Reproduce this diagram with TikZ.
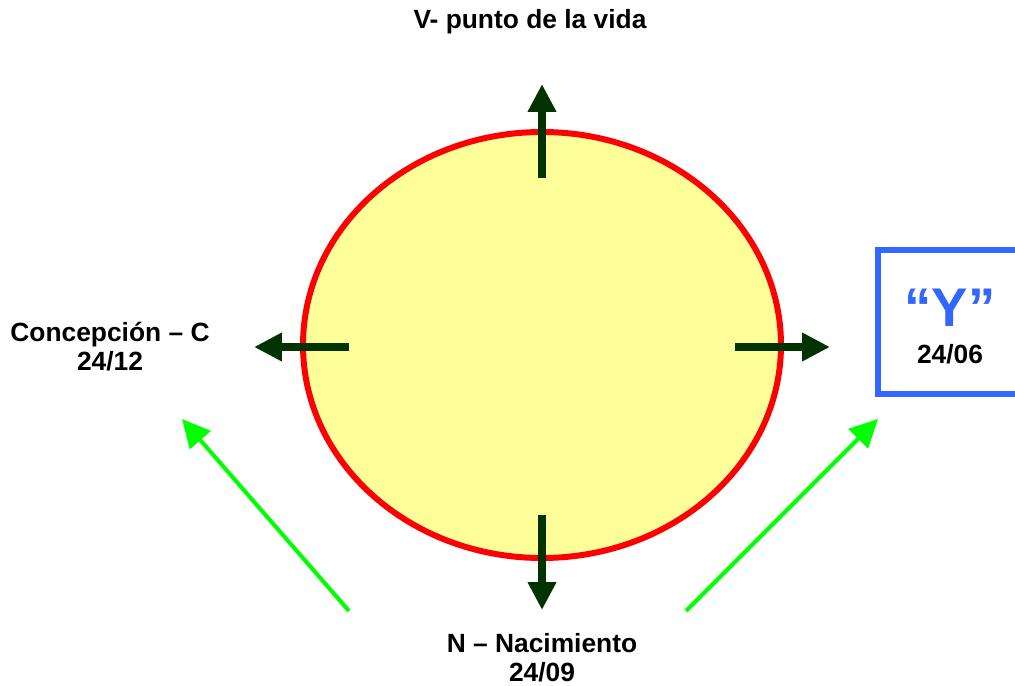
\documentclass[tikz,border=0pt]{standalone}
\usepackage{fontspec}
\setmainfont{Liberation Sans}
\usetikzlibrary{arrows.meta}
\definecolor{darkarrow}{HTML}{003300}
\definecolor{lightarrow}{HTML}{00FF00}
\definecolor{boxblue}{HTML}{3366FF}
\definecolor{eggfill}{HTML}{FFFF99}
\begin{document}
\begin{tikzpicture}[x=0.02cm, y=-0.02cm,
    label/.style={font=\fontsize{15}{16.5}\selectfont\bfseries, align=center},
    darkarrow/.style={draw=darkarrow, line width=4pt, -{Triangle[width=0.54cm, length=0.56cm]}},
    lightarrow/.style={draw=lightarrow, line width=2.3pt, -{Triangle[width=0.54cm, length=0.56cm]}}]
    \useasboundingbox (0,0) rectangle (1015,686);

    % Central ellipse (yellow with red outline)
    \draw[red, fill=eggfill, line width=3.4pt] (542,345) ellipse (239 and 213);

    % Ends of the four dark arrows
    \coordinate (topin) at (542,178);   \coordinate (topout) at (542,84);
    \coordinate (leftin) at (349,347);  \coordinate (leftout) at (254,347);
    \coordinate (rightin) at (735,347); \coordinate (rightout) at (830,347);
    \coordinate (botin) at (542,515);   \coordinate (botout) at (542,610);

    \draw[darkarrow] (topin) -- (topout);
    \draw[darkarrow] (leftin) -- (leftout);
    \draw[darkarrow] (rightin) -- (rightout);
    \draw[darkarrow] (botin) -- (botout);

    % Green diagonal arrows
    \coordinate (lowleft) at (349,611);  \coordinate (upleft) at (182,419);
    \coordinate (lowright) at (686,611); \coordinate (upright) at (878,419);
    \draw[lightarrow] (lowleft) -- (upleft);
    \draw[lightarrow] (lowright) -- (upright);

    % Labels
    \node[label] (vida) at (530,22) {V- punto de la vida};
    \node[label] (concep) at (110,347) {Concepción – C\\24/12};
    \node[label] (nacim) at (542,658) {N – Nacimiento\\24/09};

    % Blue box on the right, cut by the page edge
    \draw[boxblue, line width=3.4pt] (878,250) rectangle (1040,394);
    \node[text=boxblue, font=\fontsize{31}{32}\selectfont\bfseries] (yletter) at (950,308) {“Y”};
    \node[label] (yfecha) at (950,354) {24/06};
\end{tikzpicture}
\end{document}
